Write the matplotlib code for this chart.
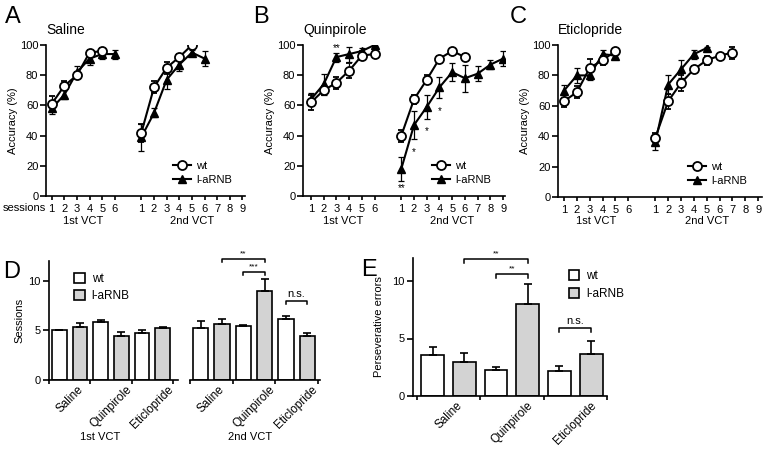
import matplotlib.pyplot as plt
from matplotlib.patches import Patch
from matplotlib.lines import Line2D

plt.rcParams['font.family'] = ['Liberation Sans', 'DejaVu Sans']
plt.rcParams['axes.linewidth'] = 1.2
plt.rcParams['xtick.major.width'] = 1.2
plt.rcParams['ytick.major.width'] = 1.2
plt.rcParams['xtick.major.size'] = 3
plt.rcParams['ytick.major.size'] = 4.5
plt.rcParams['xtick.labelsize'] = 8
plt.rcParams['ytick.labelsize'] = 8

W, H = 768, 449

# ---------------- data: accuracy per session (A-C) ----------------
sess1 = [1, 2, 3, 4, 5, 6]
sess2 = [1, 2, 3, 4, 5, 6, 7, 8, 9]

sal_wt1 = [61, 73, 80, 95, 96]
sal_wt1_err = [5, 3, 2, 2, 2]
sal_ko1 = [58, 67, 82, 91, 94, 94]
sal_ko1_err = [4, 3, 4, 4, 3, 3]
sal_wt2 = [42, 72, 85, 92, 100]
sal_wt2_err = [6, 4, 4, 2, 1]
sal_ko2 = [39, 55, 77, 87, 95, 91]
sal_ko2_err = [9, 3, 6, 4, 2, 5]

qui_wt1 = [62, 70, 75, 83, 93, 94]
qui_wt1_err = [5, 3, 4, 5, 3, 2]
qui_ko1 = [64, 74, 92, 94, 96, 100]
qui_ko1_err = [4, 7, 3, 5, 2, 1]
qui_wt2 = [40, 64, 77, 91, 96, 92]
qui_wt2_err = [4, 3, 3, 2, 1, 2]
qui_ko2 = [18, 47, 59, 72, 82, 78, 81, 87, 91]
qui_ko2_err = [8, 9, 8, 7, 6, 9, 5, 3, 5]

eti_wt1 = [63, 69, 85, 90, 96]
eti_wt1_err = [4, 4, 6, 3, 1]
eti_ko1 = [70, 80, 80, 94, 93]
eti_ko1_err = [4, 5, 3, 3, 2]
eti_wt2 = [39, 63, 75, 84, 90, 93, 95]
eti_wt2_err = [3, 5, 5, 2, 3, 1, 4]
eti_ko2 = [36, 74, 84, 94, 98]
eti_ko2_err = [5, 6, 6, 3, 1]

# significance marks in B: (VCT block, session, label, y)
qui_sig = [(1, 3, '**', 100), (2, 1, '**', 7), (2, 2, '*', 31), (2, 3, '*', 45), (2, 4, '*', 58)]

# ---------------- data: sessions to criterion (D) ----------------
drugs = ['Saline', 'Quinpirole', 'Eticlopride']
ses1_wt = [5.0, 5.8, 4.7]
ses1_wt_err = [0.0, 0.3, 0.3]
ses1_ko = [5.3, 4.4, 5.2]
ses1_ko_err = [0.4, 0.4, 0.15]
ses2_wt = [5.2, 5.4, 6.2]
ses2_wt_err = [0.7, 0.15, 0.3]
ses2_ko = [5.6, 9.0, 4.4]
ses2_ko_err = [0.55, 1.2, 0.3]

# ---------------- data: perseverative errors (E) ----------------
per_wt = [3.6, 2.3, 2.15]
per_wt_err = [0.65, 0.25, 0.45]
per_ko = [3.0, 8.0, 3.65]
per_ko_err = [0.75, 1.75, 1.1]

GAP = 7.1
GRAY = '#d3d3d3'


def rect(l, t, r, b):
    return [l / W, 1 - b / H, (r - l) / W, (b - t) / H]


def style(ax):
    ax.spines['top'].set_visible(False)
    ax.spines['right'].set_visible(False)


fig = plt.figure(figsize=(W / 100, H / 100), dpi=100)


def line_panel(box, xlim, title, wt1, wt1e, ko1, ko1e, wt2, wt2e, ko2, ko2e):
    ax = fig.add_axes(rect(*box))
    style(ax)
    kw_wt = dict(color='black', marker='o', markersize=6.5, markerfacecolor='white',
                 markeredgewidth=1.3, linewidth=1.5, capsize=2.5, elinewidth=0.9, capthick=0.9, zorder=3)
    kw_ko = dict(color='black', marker='^', markersize=6, markerfacecolor='black',
                 linewidth=1.5, capsize=2.5, elinewidth=0.9, capthick=0.9, zorder=2)
    x1 = sess1
    x2 = [s + GAP for s in sess2]
    ax.errorbar(x1[:len(ko1)], ko1, yerr=ko1e, **kw_ko)
    ax.errorbar(x2[:len(ko2)], ko2, yerr=ko2e, **kw_ko)
    ax.errorbar(x1[:len(wt1)], wt1, yerr=wt1e, **kw_wt)
    ax.errorbar(x2[:len(wt2)], wt2, yerr=wt2e, **kw_wt)
    ax.set_xlim(*xlim)
    ax.set_ylim(0, 100)
    ax.set_yticks([0, 20, 40, 60, 80, 100])
    ax.set_xticks(x1 + x2)
    ax.set_xticklabels([str(s) for s in sess1 + sess2])
    ax.tick_params(axis='x', pad=2.5)
    ax.tick_params(axis='y', pad=1)
    ax.set_ylabel('Accuracy (%)', fontsize=8, labelpad=1)
    handles = [Line2D([], [], color='black', marker='o', markersize=6.5, markerfacecolor='white',
                      markeredgewidth=1.3, linewidth=1.5),
               Line2D([], [], color='black', marker='^', markersize=6, linewidth=1.5)]
    ax.legend(handles, ['wt', 'l-aRNB'], loc='lower left', bbox_to_anchor=(0.6, 0.02),
              frameon=False, fontsize=8, handlelength=1.6, handletextpad=0.5,
              labelspacing=0.35, borderpad=0.2)
    fig.text(box[0] / W, 1 - 30 / H, title, fontsize=10, ha='left', va='center')
    # VCT labels
    c1 = ax.transData.transform((3.5, 0))[0] / W
    c2 = ax.transData.transform((5 + GAP, 0))[0] / W
    fig.text(c1, 1 - 221 / H, '1st VCT', fontsize=8, ha='center', va='center')
    fig.text(c2, 1 - 221 / H, '2nd VCT', fontsize=8, ha='center', va='center')
    return ax


axA = line_panel((46, 45, 245, 196), (0.55, 16.3), 'Saline',
                 sal_wt1, sal_wt1_err, sal_ko1, sal_ko1_err, sal_wt2, sal_wt2_err, sal_ko2, sal_ko2_err)
axB = line_panel((303, 45, 505, 196), (0.375, 16.25), 'Quinpirole',
                 qui_wt1, qui_wt1_err, qui_ko1, qui_ko1_err, qui_wt2, qui_wt2_err, qui_ko2, qui_ko2_err)
axC = line_panel((558, 45, 762, 197), (0.53, 16.4), 'Eticlopride',
                 eti_wt1, eti_wt1_err, eti_ko1, eti_ko1_err, eti_wt2, eti_wt2_err, eti_ko2, eti_ko2_err)

for block, s, lab, y in qui_sig:
    x = s if block == 1 else s + GAP
    axB.text(x, y - 2, lab, fontsize=7, ha='center', va='center')

fig.text(3 / W, 1 - 208 / H, 'sessions', fontsize=8, ha='left', va='center')

for lx, ly, letter in [(5, 17, 'A'), (253, 17, 'B'), (510, 17, 'C'), (3, 272, 'D'), (361, 270, 'E')]:
    fig.text(lx / W, 1 - ly / H, letter, fontsize=17, ha='left', va='center')


def bars(ax, wt, wte, ko, koe):
    xs = range(len(wt))
    ax.bar([g + 0.25 for g in xs], wt, 0.36, color='white', edgecolor='black', linewidth=1.2,
           yerr=[[0] * len(wt), wte], capsize=3, error_kw=dict(elinewidth=1.2, capthick=1.2), zorder=2)
    ax.bar([g + 0.75 for g in xs], ko, 0.36, color=GRAY, edgecolor='black', linewidth=1.2,
           yerr=[[0] * len(ko), koe], capsize=3, error_kw=dict(elinewidth=1.2, capthick=1.2), zorder=2)
    ax.set_ylim(0, 12)
    ax.set_xticks([0, 1, 2, 3])
    ax.set_xticklabels([])
    ax.set_xticks([g + 0.5 for g in xs], minor=True)
    ax.set_xticklabels(drugs, minor=True, rotation=45, ha='center', va='top', fontsize=8.5)
    ax.tick_params(axis='x', which='minor', length=0, pad=2.5)
    ax.tick_params(axis='y', pad=1.5)


def bracket(ax, x0, x1, y, lab, fs=6):
    d = 0.3
    ax.plot([x0, x0, x1, x1], [y - d, y, y, y - d], color='black', linewidth=1.1, clip_on=False)
    ax.text((x0 + x1) / 2, y + 0.15, lab, fontsize=fs, ha='center', va='bottom')


# D
axD1 = fig.add_axes(rect(49, 261, 178, 380))
style(axD1)
bars(axD1, ses1_wt, ses1_wt_err, ses1_ko, ses1_ko_err)
axD1.set_xlim(0, 3.12)
axD1.set_yticks([0, 5, 10])
axD1.set_ylabel('Sessions', fontsize=8, labelpad=3)
axD1.legend([Patch(facecolor='white', edgecolor='black', linewidth=1.2),
             Patch(facecolor=GRAY, edgecolor='black', linewidth=1.2)], ['wt', 'l-aRNB'],
            loc='upper left', bbox_to_anchor=(0.13, 0.97), frameon=False, fontsize=8.5,
            handlelength=0.9, handleheight=0.9, handletextpad=0.6, labelspacing=0.45, borderpad=0.2)

axD2 = fig.add_axes(rect(190, 261, 320, 380))
style(axD2)
axD2.spines['left'].set_visible(False)
bars(axD2, ses2_wt, ses2_wt_err, ses2_ko, ses2_ko_err)
axD2.set_xlim(0, 3.05)
axD2.set_yticks([])
bracket(axD2, 0.75, 1.75, 12.2, '**')
bracket(axD2, 1.25, 1.75, 10.9, '***')
bracket(axD2, 2.25, 2.75, 8.0, 'n.s.', fs=8)

fig.text(100 / W, 1 - 437 / H, '1st VCT', fontsize=8, ha='center', va='center')
fig.text(250 / W, 1 - 437 / H, '2nd VCT', fontsize=8, ha='center', va='center')

# E
axE = fig.add_axes(rect(413, 258, 607, 396))
style(axE)
bars(axE, per_wt, per_wt_err, per_ko, per_ko_err)
axE.set_xlim(-0.06, 3.0)
axE.set_yticks([0, 5, 10])
axE.set_ylabel('Perseverative errors', fontsize=8, labelpad=6)
bracket(axE, 0.75, 1.75, 11.9, '**')
bracket(axE, 1.25, 1.75, 10.6, '**')
bracket(axE, 2.25, 2.75, 5.9, 'n.s.', fs=8)
axE.legend([Patch(facecolor='white', edgecolor='black', linewidth=1.2),
            Patch(facecolor=GRAY, edgecolor='black', linewidth=1.2)], ['wt', 'l-aRNB'],
           loc='upper left', bbox_to_anchor=(0.76, 0.97), frameon=False, fontsize=8.5,
           handlelength=0.9, handleheight=0.9, handletextpad=0.6, labelspacing=0.45, borderpad=0.2)

fig.savefig('out.png', dpi=100)
